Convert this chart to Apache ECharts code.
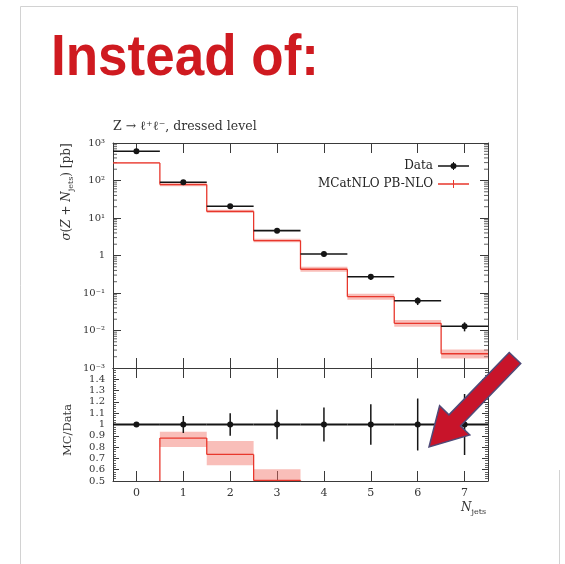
<!DOCTYPE html>
<html>
<head>
<meta charset="utf-8">
<script src="https://cdn.jsdelivr.net/npm/echarts@6/dist/echarts.min.js"></script>
<style>
  html, body { margin: 0; padding: 0; background: #fff; }
  #chart { width: 565px; height: 564px; }
</style>
</head>
<body>
<div id="chart"></div>
<script>
// Jet multiplicity bins
const nJets = ['0', '1', '2', '3', '4', '5', '6', '7'];

// Measured cross sections [pb] and relative uncertainties
const dataXsec   = [600, 90, 20.5, 4.6, 1.1, 0.27, 0.062, 0.013];
const dataRelErr = [0.02, 0.075, 0.10, 0.13, 0.15, 0.18, 0.23, 0.27];

// MCatNLO PB-NLO prediction [pb] with its uncertainty band
const mcXsec   = [295, 78, 15, 2.5, 0.43, 0.08, 0.0155, 0.0024];
const mcXsecLo = [282, 70, 13.6, 2.25, 0.37, 0.066, 0.0125, 0.0018];
const mcXsecHi = [308, 87, 16.5, 2.8, 0.5, 0.096, 0.019, 0.0031];

// MC / Data ratio with band
const mcRatio   = [0.48, 0.88, 0.735, 0.505, 0.39, 0.30, 0.25, 0.185];
const mcRatioLo = [0.47, 0.80, 0.64, 0.45, 0.34, 0.25, 0.20, 0.14];
const mcRatioHi = [0.495, 0.935, 0.855, 0.605, 0.45, 0.36, 0.31, 0.24];

// Axis tick labels
const xsecTickLabels  = ['10\u207B\u00B3', '10\u207B\u00B2', '10\u207B\u00B9', '1', '10\u00B9', '10\u00B2', '10\u00B3'];
const ratioTickLabels = ['0.5', '0.6', '0.7', '0.8', '0.9', '1', '1.1', '1.2', '1.3', '1.4', ''];

const SERIF = "'DejaVu Serif', 'Liberation Serif', serif";
const RED = '#e8372c';
const BAND = 'rgba(242, 110, 100, 0.45)';
const INK = '#151515';
const AXIS = '#3a3a3a';

// log-axis minor ticks (2..9 within each decade)
const minorLogTicks = [];
for (let k = -3; k < 3; k++) {
  for (let m = 2; m <= 9; m++) minorLogTicks.push([0, m * Math.pow(10, k)]);
}

const chart = echarts.init(document.getElementById('chart'), null, { renderer: 'canvas' });

function binWidth(params) { return params.coordSys.width / nJets.length; }

// step histogram with uncertainty band
function renderStep(params, api) {
  const i = api.value(0);
  const w = binWidth(params);
  const c = api.coord([i, api.value(1)]);
  const lo = api.coord([i, api.value(2)]);
  const hi = api.coord([i, api.value(3)]);
  const x0 = c[0] - w / 2, x1 = c[0] + w / 2;
  const children = [
    { type: 'rect', shape: { x: x0, y: hi[1], width: w, height: lo[1] - hi[1] },
      style: { fill: BAND } },
    { type: 'line', shape: { x1: x0, y1: c[1], x2: x1, y2: c[1] },
      style: { stroke: RED, lineWidth: 1.3 } }
  ];
  if (i > 0) {
    const p = api.coord([i, api.value(4)]);
    children.push({ type: 'line', shape: { x1: x0, y1: p[1], x2: x0, y2: c[1] },
      style: { stroke: RED, lineWidth: 1.3 } });
  }
  return { type: 'group', children };
}

// points with horizontal bin-width bar and vertical error bar
function renderPoints(params, api) {
  const i = api.value(0);
  const w = binWidth(params);
  const c = api.coord([i, api.value(1)]);
  const lo = api.coord([i, api.value(2)]);
  const hi = api.coord([i, api.value(3)]);
  const lw = api.value(4);
  return { type: 'group', children: [
    { type: 'line', shape: { x1: c[0] - w / 2, y1: c[1], x2: c[0] + w / 2, y2: c[1] },
      style: { stroke: INK, lineWidth: lw } },
    { type: 'line', shape: { x1: c[0], y1: hi[1], x2: c[0], y2: lo[1] },
      style: { stroke: INK, lineWidth: 1.5 } },
    { type: 'circle', shape: { cx: c[0], cy: c[1], r: 3 }, style: { fill: INK } }
  ]};
}

function renderMinorTicks(params, api) {
  const y = api.coord([0, api.value(1)])[1];
  const x0 = params.coordSys.x, x1 = x0 + params.coordSys.width;
  return { type: 'group', children: [
    { type: 'line', shape: { x1: x0, y1: y, x2: x0 + 4, y2: y }, style: { stroke: AXIS, lineWidth: 0.8 } },
    { type: 'line', shape: { x1: x1 - 4, y1: y, x2: x1, y2: y }, style: { stroke: AXIS, lineWidth: 0.8 } }
  ]};
}

const mcTop = nJets.map((_, i) => [i, mcXsec[i], mcXsecLo[i], mcXsecHi[i], i > 0 ? mcXsec[i - 1] : mcXsec[i]]);
const mcBottom = nJets.map((_, i) => [i, mcRatio[i], mcRatioLo[i], mcRatioHi[i], i > 0 ? mcRatio[i - 1] : mcRatio[i]]);
const dataTop = nJets.map((_, i) => [i, dataXsec[i], dataXsec[i] * (1 - dataRelErr[i]), dataXsec[i] * (1 + dataRelErr[i]), 1.6]);
const dataBottom = nJets.map((_, i) => [i, 1, 1 - dataRelErr[i], 1 + dataRelErr[i], 2]);

function xAxisDef(gridIndex, position, showLabels) {
  return {
    type: 'category', data: nJets, gridIndex, position, boundaryGap: true,
    axisLine: { show: true, lineStyle: { color: AXIS, width: 1 } },
    axisTick: { show: true, inside: true, alignWithLabel: true, length: 10, lineStyle: { color: AXIS, width: 1 } },
    axisLabel: { show: showLabels, margin: 7, fontFamily: SERIF, fontSize: 11, color: '#333' },
    splitLine: { show: false }
  };
}

const logY = (gridIndex, position, showLabels) => ({
  type: 'log', logBase: 10, min: 1e-3, max: 1e3, gridIndex, position,
  axisLine: { show: true, lineStyle: { color: AXIS, width: 1 } },
  axisTick: { show: true, inside: true, length: 8, lineStyle: { color: AXIS, width: 1 } },
  axisLabel: { show: showLabels, margin: 8, fontFamily: SERIF, fontSize: 10, color: '#333',
    formatter: v => xsecTickLabels[Math.round(Math.log10(v)) + 3] },
  splitLine: { show: false }
});

const ratioY = (gridIndex, position, showLabels) => ({
  type: 'value', min: 0.5, max: 1.5, interval: 0.1, gridIndex, position,
  axisLine: { show: true, lineStyle: { color: AXIS, width: 1 } },
  axisTick: { show: true, inside: true, length: 6, lineStyle: { color: AXIS, width: 1 } },
  minorTick: { show: true, splitNumber: 5, length: 3, lineStyle: { color: AXIS, width: 0.8 } },
  axisLabel: { show: showLabels, margin: 8, fontFamily: SERIF, fontSize: 10, color: '#333',
    formatter: v => ratioTickLabels[Math.round((v - 0.5) * 10)] },
  splitLine: { show: false }
});

// Arrow annotation geometry
const tail = [515, 358], tip = [429, 447];
const len = Math.hypot(tip[0] - tail[0], tip[1] - tail[1]);
const d = [(tip[0] - tail[0]) / len, (tip[1] - tail[1]) / len];
const nrm = [-d[1], d[0]];
const headLen = 37, headHalf = 21, shaftHalf = 8;
const base = [tip[0] - headLen * d[0], tip[1] - headLen * d[1]];
const off = (p, s) => [p[0] + s * nrm[0], p[1] + s * nrm[1]];
const arrowPts = [off(tail, shaftHalf), off(base, shaftHalf), off(base, headHalf), tip,
  off(base, -headHalf), off(base, -shaftHalf), off(tail, -shaftHalf)];

const option = {
  animation: false,
  backgroundColor: '#fff',
  legend: {
    data: [
      { name: 'Data', icon: 'path://M0,3.3H31V4.7H0Z M15,0H16V8H15Z M12.5,4A3,3 0 1,1 18.5,4A3,3 0 1,1 12.5,4Z', itemStyle: { color: INK } },
      { name: 'MCatNLO PB-NLO', icon: 'path://M0,3.35H31V4.65H0Z M15,0H16V8H15Z', itemStyle: { color: RED } }
    ],
    orient: 'vertical', right: 91, top: 155, align: 'right',
    itemWidth: 31, itemHeight: 8, itemGap: 6, selectedMode: false,
    textStyle: { fontFamily: SERIF, fontSize: 12, color: '#222' }
  },
  grid: [
    { left: 113, top: 143, right: 77, height: 225 },
    { left: 113, top: 368, right: 77, height: 113 }
  ],
  xAxis: [
    xAxisDef(0, 'bottom', false),
    xAxisDef(0, 'top', false),
    xAxisDef(1, 'bottom', true),
    xAxisDef(1, 'top', false)
  ],
  yAxis: [
    logY(0, 'left', true),
    logY(0, 'right', false),
    ratioY(1, 'left', true),
    ratioY(1, 'right', false)
  ],
  series: [
    { name: 'log minor ticks', type: 'custom', xAxisIndex: 0, yAxisIndex: 0, silent: true,
      renderItem: renderMinorTicks, data: minorLogTicks, encode: { x: 0, y: 1 } },
    { name: 'MCatNLO PB-NLO', type: 'custom', xAxisIndex: 0, yAxisIndex: 0, clip: true,
      itemStyle: { color: RED }, renderItem: renderStep, data: mcTop, encode: { x: 0, y: 1 } },
    { name: 'Data', type: 'custom', xAxisIndex: 0, yAxisIndex: 0, clip: true,
      itemStyle: { color: INK }, renderItem: renderPoints, data: dataTop, encode: { x: 0, y: 1 } },
    { name: 'MCatNLO PB-NLO', type: 'custom', xAxisIndex: 2, yAxisIndex: 2, clip: true,
      itemStyle: { color: RED }, renderItem: renderStep, data: mcBottom, encode: { x: 0, y: 1 } },
    { name: 'Data', type: 'custom', xAxisIndex: 2, yAxisIndex: 2, clip: true,
      itemStyle: { color: INK }, renderItem: renderPoints, data: dataBottom, encode: { x: 0, y: 1 } }
  ],
  graphic: [
    // slide frame
    { type: 'polyline', silent: true, shape: { points: [[20.5, 564], [20.5, 6.5], [517.5, 6.5], [517.5, 340]] },
      style: { fill: null, stroke: '#d2d2d2', lineWidth: 1 } },
    { type: 'line', silent: true, shape: { x1: 559.5, y1: 470, x2: 559.5, y2: 564 },
      style: { stroke: '#d2d2d2', lineWidth: 1 } },
    // slide heading
    { type: 'text', silent: true, x: 51, y: 31, scaleX: 0.93,
      style: { text: 'Instead of:', fontFamily: "'Liberation Sans', Arial, sans-serif", fontWeight: 'bold',
        fontSize: 57, fill: '#cf1a20', align: 'left', verticalAlign: 'top' } },
    // panel heading
    { type: 'text', silent: true, x: 113, y: 127,
      style: { text: 'Z \u2192 \u2113\u207A\u2113\u207B, dressed level', fontFamily: SERIF, fontSize: 12.5,
        fill: '#333', align: 'left', verticalAlign: 'middle' } },
    // y-axis titles
    { type: 'text', silent: true, x: 67, y: 192, rotation: Math.PI / 2,
      style: { text: '{i|\u03C3}({i|Z} + {i|N}{s|jets}) [pb]', fontFamily: SERIF, fontSize: 12, lineHeight: 16,
        fill: '#333', align: 'center', verticalAlign: 'middle',
        rich: { i: { fontStyle: 'italic', fontFamily: SERIF, fontSize: 12, lineHeight: 16 },
                s: { fontFamily: SERIF, fontSize: 8, lineHeight: 9, verticalAlign: 'bottom' } } } },
    { type: 'text', silent: true, x: 68, y: 430, rotation: Math.PI / 2,
      style: { text: 'MC/Data', fontFamily: SERIF, fontSize: 11.5, fill: '#333', align: 'center', verticalAlign: 'middle' } },
    // x-axis title
    { type: 'text', silent: true, x: 486, y: 508,
      style: { text: '{i|N}{s|jets}', fontFamily: SERIF, fontSize: 12, lineHeight: 16, fill: '#333',
        align: 'right', verticalAlign: 'middle',
        rich: { i: { fontStyle: 'italic', fontFamily: SERIF, fontSize: 12, lineHeight: 16 },
                s: { fontFamily: SERIF, fontSize: 8, lineHeight: 9, verticalAlign: 'bottom' } } } },
    // pointer arrow
    { type: 'polygon', silent: true, z: 100, shape: { points: arrowPts },
      style: { fill: '#c8142a', stroke: '#4f4a78', lineWidth: 1.5, lineJoin: 'miter' } }
  ]
};

chart.setOption(option);
</script>
</body>
</html>
